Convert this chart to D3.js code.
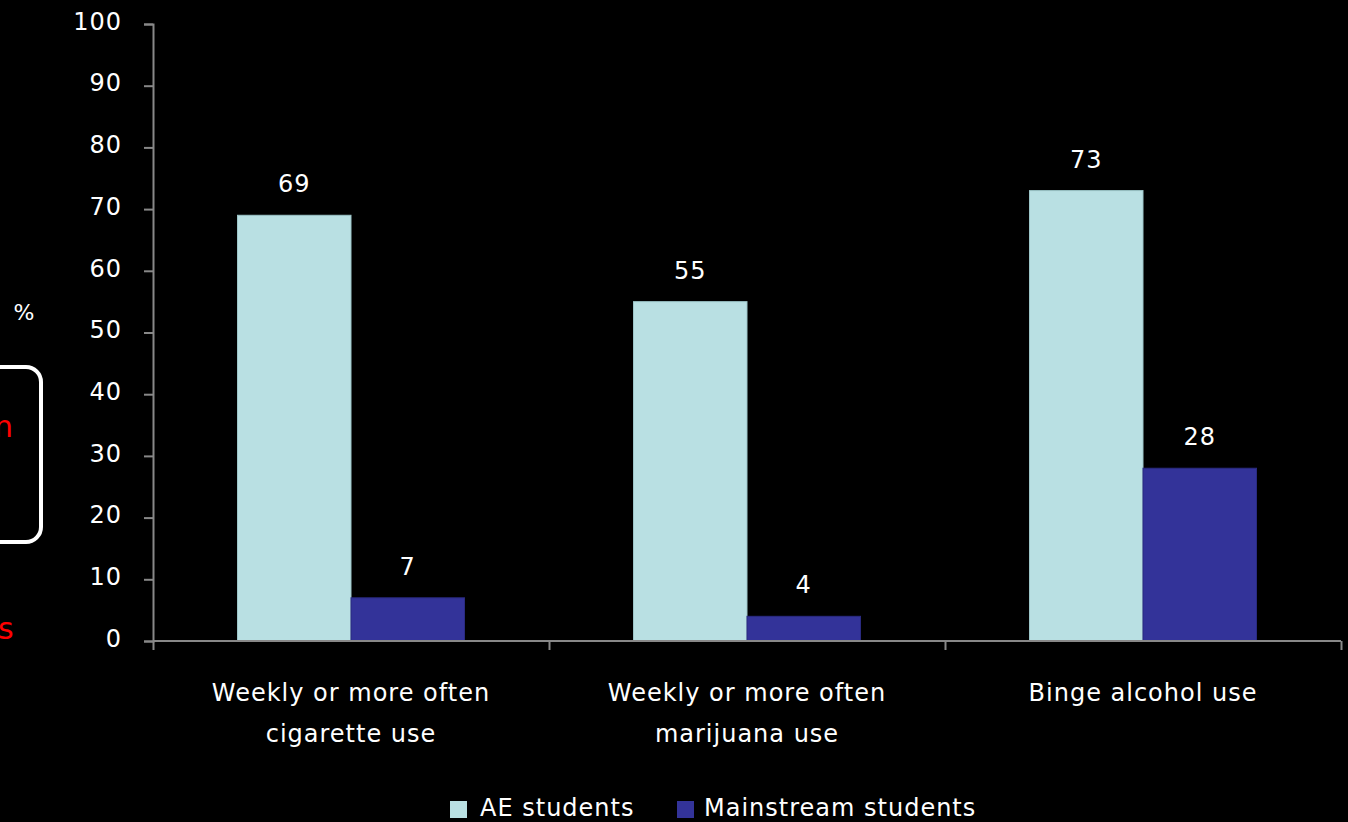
<!DOCTYPE html>
<html><head><meta charset="utf-8">
<script src="https://cdn.jsdelivr.net/npm/d3@7"></script>
<style>
html,body{margin:0;padding:0;background:#000;overflow:hidden;}
svg{display:block;}
text{font-family:"DejaVu Sans",sans-serif;fill:#fff;}
</style></head><body>
<svg id="c" width="1348" height="822"></svg>
<script>
const categories = [["Weekly or more often","cigarette use"],["Weekly or more often","marijuana use"],["Binge alcohol use"]];
const seriesNames = ["AE students","Mainstream students"];
const aeValues = [69,55,73];
const mainValues = [7,4,28];
const yTicks = [0,10,20,30,40,50,60,70,80,90,100];
const colors = ["#B9E0E3","#333399"];

(function(){
const svg = d3.select("#c");
const mL=153, mR=1341, mT=24, mB=641;
const x = d3.scaleBand().domain(d3.range(categories.length)).range([mL,mR]);
const y = d3.scaleLinear().domain([0,100]).range([mB,mT]);
const barW = 113.5;
const series = [aeValues, mainValues];
const fs = "24px", ls = "1px";

// decorative left remnants
svg.append("rect").attr("x",-60).attr("y",367).attr("width",101).attr("height",175).attr("rx",15)
  .attr("fill","none").attr("stroke","#fff").attr("stroke-width",4);
svg.append("text").attr("x",-6).attr("y",437).text("n").style("fill","#ff0000").style("font-size","30px");
svg.append("text").attr("x",-2).attr("y",639).text("s").style("fill","#ff0000").style("font-size","30px");
svg.append("text").attr("x",24).attr("y",320).attr("text-anchor","middle").text("%").style("font-size","22px");

// y axis
const yAxis = d3.axisLeft(y).tickValues(yTicks).tickSize(9).tickPadding(22);
const gy = svg.append("g").attr("transform",`translate(${mL},0)`).call(yAxis);
gy.selectAll("path,line").attr("stroke","#888").attr("stroke-width",2);
gy.selectAll("text").style("font-size",fs).style("letter-spacing",ls).style("font-family","DejaVu Sans").attr("fill","#fff").attr("dy","0.22em");

// bars
series.forEach((vals,si)=>{
  const g = svg.append("g");
  g.selectAll("rect").data(vals).join("rect")
    .attr("x",(d,i)=>x(i)+x.bandwidth()/2 - barW + si*barW)
    .attr("y",d=>y(d)).attr("width",barW).attr("height",d=>mB-y(d))
    .attr("fill",colors[si]).attr("stroke",si==0?"#9cc5c8":"#2a2a80").attr("stroke-width",1);
  g.selectAll("text").data(vals).join("text")
    .attr("x",(d,i)=>x(i)+x.bandwidth()/2 - barW/2 + si*barW)
    .attr("y",d=>y(d)-23).attr("text-anchor","middle").style("font-size",fs).style("letter-spacing",ls).text(d=>d);
});

// x axis
const xAxis = d3.axisBottom(d3.scaleLinear().domain([0,3]).range([mL,mR])).tickValues([0,1,2,3]).tickSize(9).tickFormat("");
const gx = svg.append("g").attr("transform",`translate(0,${mB})`).call(xAxis);
gx.select("path").attr("d",`M${mL},0H${mR}`);
gx.selectAll("path,line").attr("stroke","#888").attr("stroke-width",2);

// category labels
categories.forEach((lines,i)=>{
  const t = svg.append("text").attr("x",x(i)+x.bandwidth()/2).attr("y",701).attr("text-anchor","middle").style("font-size",fs).style("letter-spacing",ls);
  lines.forEach((l,j)=>t.append("tspan").attr("x",x(i)+x.bandwidth()/2).attr("dy",j?41:0).text(l));
});

// legend
const leg = [{x:450,tx:480},{x:677,tx:704}];
seriesNames.forEach((n,i)=>{
  svg.append("rect").attr("x",leg[i].x).attr("y",801).attr("width",17).attr("height",17).attr("fill",colors[i]);
  svg.append("text").attr("x",leg[i].tx).attr("y",816).style("font-size",fs).style("letter-spacing",ls).text(n);
});
})();
</script></body></html>
